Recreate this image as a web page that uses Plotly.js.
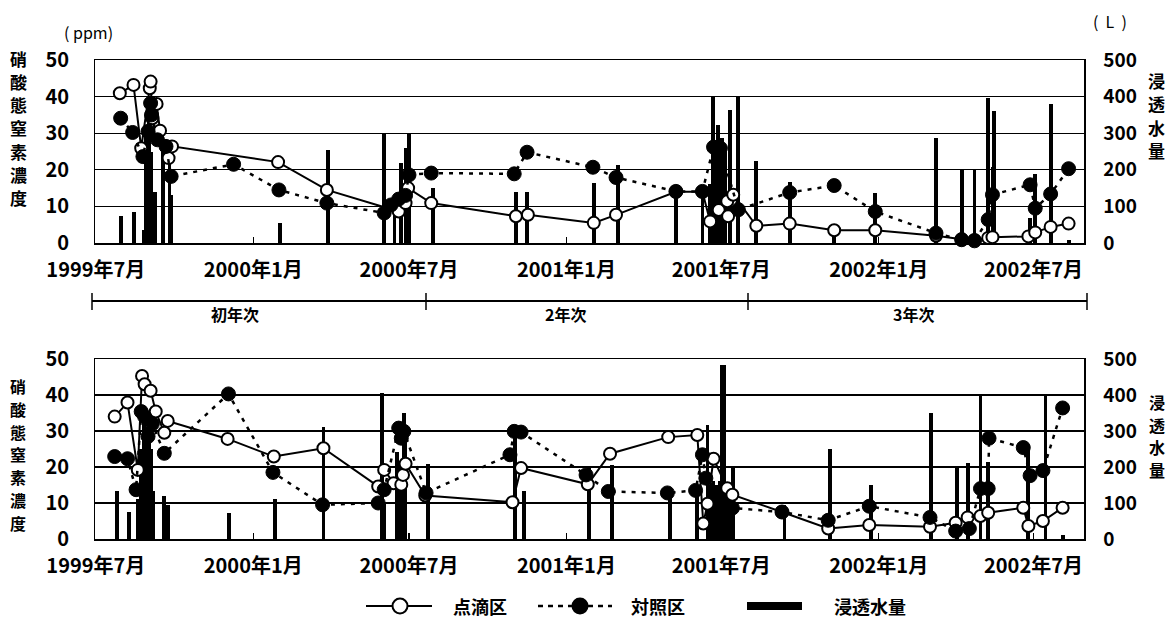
<!DOCTYPE html>
<html>
<head>
<meta charset="utf-8">
<script src="https://cdn.plot.ly/plotly-3.0.1.min.js"></script>
<style>html,body{margin:0;padding:0;background:#fff;}</style>
</head>
<body>
<div id="chart" style="width:1174px;height:618px;"></div>
<script>
// ---------- tick labels ----------
const tickVals = ['1999-07-01','2000-01-01','2000-07-01','2001-01-01','2001-07-01','2002-01-01','2002-07-01'];
const tickText = ['1999年7月','2000年1月','2000年7月','2001年1月','2001年7月','2002年1月','2002年7月'];
const seriesNames = ['点滴区','対照区','浸透水量'];
const periodNames = ['初年次','2年次','3年次'];
const leftTitle = '硝酸態窒素濃度';
const rightTitle = '浸透水量';

// ---------- TOP chart ----------
const topDripDates = ['1999-07-29','1999-08-14','1999-08-23','1999-09-02','1999-09-03','1999-09-05','1999-09-10','1999-09-14','1999-09-24','1999-09-28','2000-01-30','2000-03-27','2000-06-19','2000-06-27','2000-06-30','2000-07-27','2000-11-03','2000-11-17','2001-02-02','2001-02-28','2001-05-09','2001-06-09','2001-06-18','2001-06-28','2001-07-08','2001-07-09','2001-07-15','2001-08-11','2001-09-19','2001-11-10','2001-12-28','2002-03-09','2002-04-08','2002-04-23','2002-05-09','2002-05-14','2002-06-25','2002-07-03','2002-07-21','2002-08-11'];
const topDripVals  = [40.9,43.2,25.9,42.3,44.1,34.1,38.0,30.7,23.2,26.4,22.1,14.5,8.6,10.9,15.0,10.9,7.3,7.7,5.5,7.7,14.0,14.0,5.9,9.0,11.4,7.3,13.2,4.7,5.3,3.5,3.5,2.0,1.0,0.8,1.4,1.6,1.8,2.9,4.4,5.3];

const topCtrlDates = ['1999-07-30','1999-08-13','1999-08-25','1999-08-31','1999-09-03','1999-09-04','1999-09-11','1999-09-21','1999-09-27','1999-12-09','2000-01-31','2000-03-27','2000-06-02','2000-06-10','2000-06-19','2000-06-27','2000-07-01','2000-07-27','2000-11-01','2000-11-16','2001-02-01','2001-02-28','2001-05-09','2001-06-09','2001-06-22','2001-06-30','2001-07-21','2001-09-19','2001-11-10','2001-12-28','2002-03-09','2002-04-08','2002-04-23','2002-05-09','2002-05-14','2002-06-27','2002-07-03','2002-07-21','2002-08-11'];
const topCtrlVals  = [34.1,30.2,23.6,30.5,38.2,35.0,28.2,26.4,18.2,21.5,14.5,10.9,8.2,10.4,12.0,13.0,18.6,19.1,18.9,24.8,20.7,17.9,14.1,14.1,26.2,25.9,9.1,13.8,15.7,8.6,2.7,0.9,0.6,6.4,13.2,15.9,9.5,13.4,20.3];

const topPercDates = ['1999-07-30','1999-08-15','1999-08-26','1999-08-29','1999-09-01','1999-09-04','1999-09-08','1999-09-17','1999-09-25','1999-09-27','2000-02-01','2000-03-28','2000-06-02','2000-06-14','2000-06-22','2000-06-28','2000-07-01','2000-07-29','2000-11-03','2000-11-16','2001-02-02','2001-03-02','2001-05-09','2001-06-09','2001-06-18','2001-06-21','2001-06-24','2001-06-27','2001-07-02','2001-07-06','2001-07-11','2001-07-21','2001-08-11','2001-09-19','2001-11-10','2001-12-28','2002-03-09','2002-04-08','2002-04-23','2002-05-09','2002-05-14','2002-05-16','2002-06-27','2002-07-03','2002-07-21','2002-08-11'];
const topPercVals  = [73,85,36,300,380,250,140,280,230,130,55,255,300,100,218,259,298,150,139,139,164,214,141,155,160,400,250,323,286,259,364,400,223,168,18,136,288,200,200,397,209,361,68,188,379,9];

// ---------- BOTTOM chart ----------
const botDripDates = ['1999-07-23','1999-08-07','1999-08-19','1999-08-24','1999-08-27','1999-09-03','1999-09-09','1999-09-19','1999-09-23','1999-12-02','2000-01-25','2000-03-23','2000-05-26','2000-06-02','2000-06-13','2000-06-22','2000-06-24','2000-06-27','2000-07-20','2000-10-30','2000-11-09','2001-01-26','2001-02-21','2001-04-30','2001-06-03','2001-06-10','2001-06-15','2001-06-22','2001-07-08','2001-07-14','2001-09-10','2001-11-03','2001-12-21','2002-03-02','2002-04-01','2002-04-15','2002-04-30','2002-05-09','2002-06-19','2002-06-25','2002-07-12','2002-08-04'];
const botDripVals  = [34.0,37.9,19.2,45.3,43.0,41.2,35.4,29.5,32.8,27.8,22.9,25.2,14.6,19.2,15.5,15.1,17.8,20.9,12.1,10.2,19.7,15.2,23.7,28.3,28.9,4.3,9.8,22.3,14.1,12.3,7.5,2.9,3.9,3.4,4.5,6.0,6.4,7.3,8.7,3.6,5.0,8.7];

const botCtrlDates = ['1999-07-23','1999-08-07','1999-08-17','1999-08-23','1999-08-27','1999-08-31','1999-09-05','1999-09-19','1999-12-03','2000-01-24','2000-03-22','2000-05-26','2000-06-02','2000-06-19','2000-06-22','2000-06-25','2000-07-21','2000-10-27','2000-11-01','2000-11-09','2001-01-24','2001-02-19','2001-04-29','2001-06-01','2001-06-09','2001-06-13','2001-07-14','2001-09-10','2001-11-03','2001-12-21','2002-03-02','2002-04-01','2002-04-17','2002-04-30','2002-05-09','2002-05-10','2002-06-19','2002-06-27','2002-07-12','2002-08-04'];
const botCtrlVals  = [22.9,22.3,13.7,35.4,34.0,28.5,32.0,23.8,40.3,18.5,9.5,10.0,13.7,30.8,28.0,29.9,12.8,23.4,29.9,29.7,17.8,13.2,12.8,13.5,23.4,16.9,8.6,7.5,5.2,9.1,6.0,2.2,2.9,14.0,14.0,28.0,25.4,17.6,19.0,36.4];

const botPercDates = ['1999-07-26','1999-08-09','1999-08-19','1999-08-23','1999-08-26','1999-08-29','1999-09-01','1999-09-04','1999-09-06','1999-09-19','1999-09-23','1999-12-04','2000-01-26','2000-03-23','2000-05-30','2000-06-02','2000-06-17','2000-06-22','2000-06-25','2000-06-27','2000-07-23','2000-11-02','2000-11-12','2001-01-27','2001-02-23','2001-05-02','2001-06-03','2001-06-15','2001-06-18','2001-06-22','2001-06-26','2001-06-30','2001-07-02','2001-07-04','2001-07-08','2001-07-11','2001-07-15','2001-09-13','2001-11-05','2001-12-23','2002-03-03','2002-04-03','2002-04-15','2002-04-30','2002-05-09','2002-06-25','2002-07-15','2002-08-04'];
const botPercVals  = [132,75,110,250,370,300,330,250,132,120,95,72,111,310,405,100,243,200,349,300,208,298,132,201,206,141,141,317,150,160,150,160,483,483,150,150,201,94,249,150,350,199,211,399,213,250,401,11];

// ---------- pixel helpers for decorations (paper coords) ----------
const ML = 95, MR = 90, MT = 60, MB = 79, W = 1174, H = 618;
const PW = W - ML - MR, PH = H - MT - MB;
const px = x => (x - ML) / PW;
const py = y => (H - MB - y) / PH;

const FONT = 'Noto Sans CJK JP, Noto Sans, sans-serif';
const barWidth = 4.5 * 24 * 3600 * 1000;

function lineTrace(x, y, yaxis, xaxis, filled, name) {
  return {
    type: 'scatter', mode: 'lines+markers', x: x, y: y, xaxis: xaxis, yaxis: yaxis,
    name: name, showlegend: false,
    line: filled ? {color: '#000', width: 2.5, dash: '4px,6px'} : {color: '#000', width: 2},
    marker: filled ? {size: 14, color: '#000', line: {color: '#000', width: 1}}
                   : {size: 12, color: '#fff', line: {color: '#000', width: 2}},
    cliponaxis: false
  };
}
function barTrace(x, y, xaxis, yaxis, name) {
  return {type: 'bar', x: x, y: y, xaxis: xaxis, yaxis: yaxis, name: name,
          width: barWidth, marker: {color: '#000', line: {width: 0}}, showlegend: false};
}

const data = [
  barTrace(topPercDates, topPercVals, 'x', 'y', seriesNames[2]),
  lineTrace(topDripDates, topDripVals, 'y2', 'x', false, seriesNames[0]),
  lineTrace(topCtrlDates, topCtrlVals, 'y2', 'x', true, seriesNames[1]),
  barTrace(botPercDates, botPercVals, 'x2', 'y3', seriesNames[2]),
  lineTrace(botDripDates, botDripVals, 'y4', 'x2', false, seriesNames[0]),
  lineTrace(botCtrlDates, botCtrlVals, 'y4', 'x2', true, seriesNames[1])
];

const xBase = {
  type: 'date', range: ['1999-06-30', '2002-08-29'],
  tickmode: 'array', tickvals: tickVals, ticktext: tickText,
  ticks: 'inside', ticklen: 6, tickwidth: 1.5, tickcolor: '#000',
  showline: true, mirror: true, linecolor: '#000', linewidth: 1.5,
  showgrid: false, zeroline: false, ticklabelstandoff: 8,
  tickfont: {family: FONT, size: 20, color: '#000', weight: 'bold'}
};
const yBar = {
  side: 'right', range: [0, 500], dtick: 100, tick0: 0,
  showgrid: true, gridcolor: '#000', gridwidth: 1.3,
  showline: true, mirror: true, linecolor: '#000', linewidth: 1.5,
  zeroline: false, ticks: '', ticklabelstandoff: 14,
  tickfont: {family: FONT, size: 19, color: '#000', weight: 'bold'}
};
const yLine = {
  side: 'left', range: [0, 50], dtick: 10, tick0: 0,
  showgrid: false, zeroline: false, showline: false, ticks: '', ticklabelstandoff: 25,
  tickfont: {family: FONT, size: 20, color: '#000', weight: 'bold'}
};
const topDom = [py(243), 1];
const botDom = [0, py(359)];

const ann = (x, y, text, size, weight) => ({
  xref: 'paper', yref: 'paper', x: px(x), y: py(y), text: text, showarrow: false,
  xanchor: 'center', yanchor: 'middle',
  font: {family: FONT, size: size, color: '#000', weight: weight || 'bold'}
});
// vertical (stacked) titles: one annotation per character
function vertical(text, x, yTop, step, size) {
  return text.split('').map((c, i) => ann(x, yTop + i * step, c, size));
}

const annotations = [].concat(
  vertical(leftTitle, 18, 58, 23.3, 17),
  vertical(leftTitle, 18, 386, 22.8, 16),
  vertical(rightTitle, 1156, 80, 23.5, 17),
  vertical(rightTitle, 1157, 402, 22.5, 16),
  [
    ann(88, 32, '(\u00a0ppm)', 16, 'normal'),
    ann(1110, 21, '(\u00a0\u00a0L\u00a0\u00a0)', 16, 'normal'),
    ann(235, 314, periodNames[0], 16),
    ann(565, 314, periodNames[1], 16),
    ann(913, 314, periodNames[2], 16),
    ann(480, 606, seriesNames[0], 18),
    ann(658, 606, seriesNames[1], 18),
    ann(870, 606, seriesNames[2], 18)
  ]
);

const L = (x0, y0, x1, y1, w, dash) => ({
  type: 'line', xref: 'paper', yref: 'paper', x0: px(x0), y0: py(y0), x1: px(x1), y1: py(y1),
  line: {color: '#000', width: w, dash: dash || 'solid'}
});
const circ = (x, y, r, fill) => ({
  type: 'circle', xref: 'paper', yref: 'paper', xsizemode: 'pixel', ysizemode: 'pixel',
  xanchor: px(x), yanchor: py(y), x0: -r, x1: r, y0: -r, y1: r,
  fillcolor: fill, line: {color: '#000', width: 2}
});
const shapes = [
  L(92, 301, 1087, 301, 2),
  L(92, 293, 92, 310, 1.5), L(426, 293, 426, 310, 1.5),
  L(748, 293, 748, 310, 1.5), L(1087, 293, 1087, 310, 1.5),
  L(366, 606, 432, 606, 2), circ(400, 606, 7.5, '#fff'),
  L(538, 606, 612, 606, 2.5, '5px,5px'), circ(580, 606, 7.5, '#000'),
  L(747, 606, 802, 606, 8)
];

const layout = {
  width: W, height: H,
  margin: {l: ML, r: MR, t: MT, b: MB, pad: 0},
  paper_bgcolor: '#fff', plot_bgcolor: '#fff',
  showlegend: false, barmode: 'overlay', bargap: 0,
  font: {family: FONT, color: '#000'},
  xaxis: Object.assign({}, xBase, {anchor: 'y', domain: [0, 1]}),
  xaxis2: Object.assign({}, xBase, {anchor: 'y3', domain: [0, 1]}),
  yaxis: Object.assign({}, yBar, {domain: topDom, anchor: 'x'}),
  yaxis2: Object.assign({}, yLine, {overlaying: 'y', anchor: 'x'}),
  yaxis3: Object.assign({}, yBar, {domain: botDom, anchor: 'x2'}),
  yaxis4: Object.assign({}, yLine, {overlaying: 'y3', anchor: 'x2'}),
  annotations: annotations, shapes: shapes
};

Plotly.newPlot('chart', data, layout, {displayModeBar: false, staticPlot: true});
</script>
</body>
</html>
